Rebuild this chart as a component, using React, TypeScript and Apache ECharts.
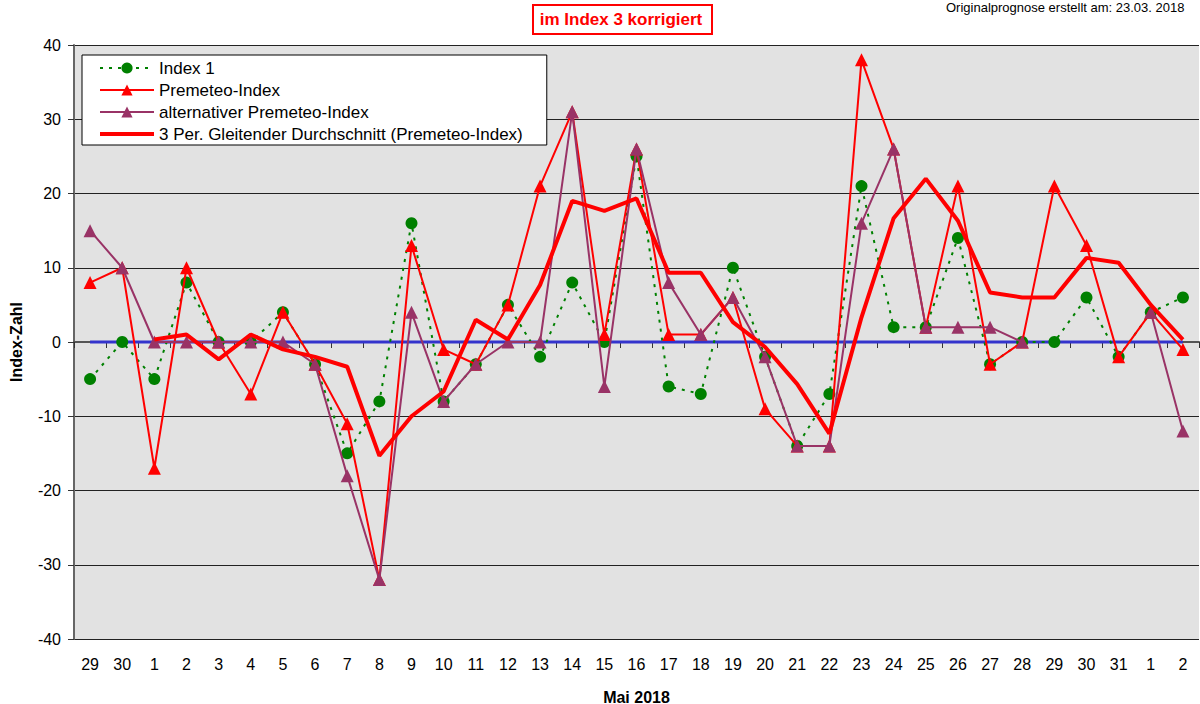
import React, { useEffect, useRef } from "react";
import * as echarts from "echarts";

const categories = ["29", "30", "1", "2", "3", "4", "5", "6", "7", "8", "9", "10", "11", "12", "13", "14", "15", "16", "17", "18", "19", "20", "21", "22", "23", "24", "25", "26", "27", "28", "29", "30", "31", "1", "2"];

const index1 = [-5, 0, -5, 8, 0, 0, 4, -3, -15, -8, 16, -8, -3, 5, -2, 8, 0, 25, -6, -7, 10, -2, -14, -7, 21, 2, 2, 14, -3, 0, 0, 6, -2, 4, 6];

const premeteo = [8, 10, -17, 10, 0, -7, 4, -3, -11, -32, 13, -1, -3, 5, 21, 31, 1, 26, 1, 1, 6, -9, -14, -14, 38, 26, 2, 21, -3, 0, 21, 13, -2, 4, -1];

const altPremeteo: (number | null)[] = [15, 10, 0, 0, 0, 0, 0, -3, -18, -32, 4, -8, -3, 0, 0, 31, -6, 26, 8, 1, 6, -2, -14, -14, 16, 26, 2, 2, 2, 0, null, null, null, 4, -12];

const movingAvg: (number | null)[] = [null, null, 0.33, 1, -2.33, 1, -1, -2, -3.33, -15.33, -10, -6.67, 3, 0.33, 7.67, 19, 17.67, 19.33, 9.33, 9.33, 2.67, -0.67, -5.67, -12.33, 3.33, 16.67, 22, 16.33, 6.67, 6, 6, 11.33, 10.67, 5, 0.33];

const zeroLine = [0, 0, 0, 0, 0, 0, 0, 0, 0, 0, 0, 0, 0, 0, 0, 0, 0, 0, 0, 0, 0, 0, 0, 0, 0, 0, 0, 0, 0, 0, 0, 0, 0, 0, 0];

const yTicks = { min: -40, max: 40, interval: 10 };

const FONT = "'Liberation Sans', Arial, Helvetica, sans-serif";

export default function App() {
  const ref = useRef<HTMLDivElement>(null);
  useEffect(() => {
    if (!ref.current) return;
    const chart = echarts.init(ref.current, null, { renderer: "svg" });
    const RED = "#ff0000";
    const GREEN = "#008000";
    const PURPLE = "#993366";
    const BLUE = "#3333cc";
    chart.setOption({
      animation: false,
      backgroundColor: "#ffffff",
      textStyle: { fontFamily: FONT },
      grid: {
        left: 74, right: 1, top: 45, bottom: 65,
        containLabel: false,
        outerBoundsMode: "none",
        show: true, backgroundColor: "#e2e2e2", borderWidth: 0,
      },
      legend: {
        orient: "vertical",
        left: 82,
        top: 55,
        backgroundColor: "#ffffff",
        borderColor: "#000000",
        borderWidth: 1,
        borderRadius: 0,
        padding: [4, 24, 2, 16],
        itemGap: 4,
        itemWidth: 54,
        itemHeight: 14,
        textStyle: { fontFamily: FONT, fontSize: 17, lineHeight: 18, color: "#000" },
        data: [
          { name: "Index 1" },
          { name: "Premeteo-Index" },
          { name: "alternativer Premeteo-Index" },
          { name: "3 Per. Gleitender Durchschnitt (Premeteo-Index)", itemStyle: { opacity: 0 }, lineStyle: { width: 4, color: RED, opacity: 1 } },
        ],
      },
      xAxis: {
        type: "category",
        data: categories,
        boundaryGap: true,
        name: "Mai 2018",
        nameLocation: "middle",
        nameGap: 50,
        nameTextStyle: { fontFamily: FONT, fontSize: 16, fontWeight: "bold", color: "#000" },
        axisLine: { lineStyle: { color: "#555", width: 2 } },
        axisTick: { show: true, length: 6, lineStyle: { color: "#333" }, alignWithLabel: false },
        axisLabel: { fontFamily: FONT, fontSize: 16, color: "#000", margin: 17, interval: 0 },
        splitLine: { show: false },
      },
      yAxis: {
        type: "value",
        min: yTicks.min,
        max: yTicks.max,
        interval: yTicks.interval,
        name: "Index-Zahl",
        nameLocation: "middle",
        nameGap: 50,
        nameRotate: 90,
        nameTextStyle: { fontFamily: FONT, fontSize: 16, fontWeight: "bold", color: "#000" },
        axisLine: { show: true, lineStyle: { color: "#666", width: 2 } },
        axisTick: { show: true, length: 6, lineStyle: { color: "#333" } },
        axisLabel: { fontFamily: FONT, fontSize: 16, color: "#000", margin: 13 },
        splitLine: { show: true, lineStyle: { color: "#222", width: 1 } },
      },
      series: [
        {
          name: "Null",
          type: "line",
          data: zeroLine,
          symbol: "none",
          lineStyle: { color: BLUE, width: 3 },
          itemStyle: { color: BLUE },
          z: 1,
        },
        {
          name: "Index 1",
          type: "line",
          data: index1,
          symbol: "circle",
          symbolSize: 12,
          lineStyle: { color: GREEN, width: 2, type: [3, 6] },
          itemStyle: { color: GREEN },
          z: 2,
        },
        {
          name: "Premeteo-Index",
          type: "line",
          data: premeteo,
          symbol: "triangle",
          symbolSize: 13,
          lineStyle: { color: RED, width: 2 },
          itemStyle: { color: RED },
          z: 3,
        },
        {
          name: "alternativer Premeteo-Index",
          type: "line",
          data: altPremeteo,
          symbol: "triangle",
          symbolSize: 13,
          connectNulls: false,
          lineStyle: { color: PURPLE, width: 2 },
          itemStyle: { color: PURPLE },
          z: 4,
        },
        {
          name: "3 Per. Gleitender Durchschnitt (Premeteo-Index)",
          type: "line",
          data: movingAvg,
          symbol: "none",
          lineStyle: { color: RED, width: 4 },
          itemStyle: { color: RED },
          z: 5,
        },
      ],
      graphic: [
        {
          type: "rect",
          shape: { x: 533, y: 5, width: 179, height: 29 },
          style: { fill: "#ffffff", stroke: RED, lineWidth: 2 },
        },
        {
          type: "text",
          x: 621,
          y: 19,
          style: { text: "im Index 3 korrigiert", fill: RED, font: `bold 17px ${FONT}`, textAlign: "center", textVerticalAlign: "middle" },
        },
        {
          type: "text",
          x: 946,
          y: 7,
          style: { text: "Originalprognose erstellt am: 23.03. 2018", fill: "#000", font: `13px ${FONT}`, textAlign: "left", textVerticalAlign: "middle" },
        },
      ],
    });
    return () => chart.dispose();
  }, []);
  return <div ref={ref} style={{ position: "fixed", left: 0, top: 0, width: 1200, height: 704 }} />;
}
